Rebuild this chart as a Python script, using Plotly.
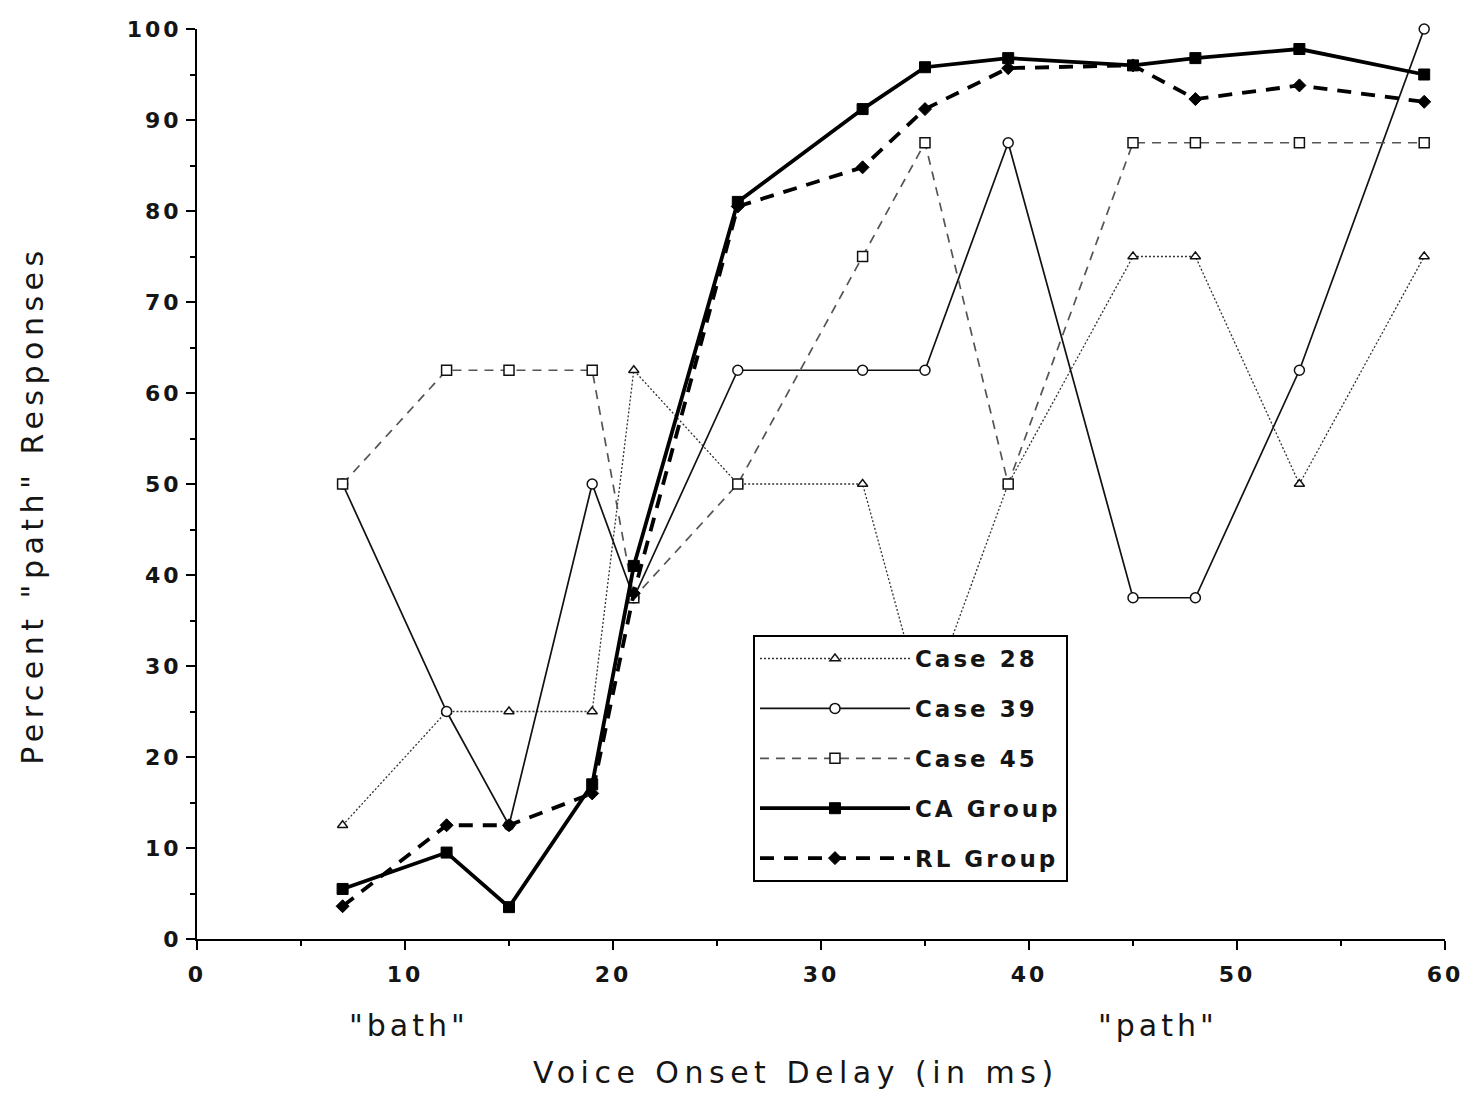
import plotly.graph_objects as go

# ---------------- data ----------------
vot_ms = [7, 12, 15, 19, 21, 26, 32, 35, 39, 45, 48, 53, 59]
case28 = [12.5, 25, 25, 25, 62.5, 50, 50, 25, 50, 75, 75, 50, 75]
case39 = [50, 25, 12.5, 50, 37.5, 62.5, 62.5, 62.5, 87.5, 37.5, 37.5, 62.5, 100]
case45 = [50, 62.5, 62.5, 62.5, 37.5, 50, 75, 87.5, 50, 87.5, 87.5, 87.5, 87.5]
ca_group = [5.5, 9.5, 3.5, 17, 41, 81, 91.2, 95.8, 96.8, 96, 96.8, 97.8, 95]
rl_group = [3.6, 12.5, 12.5, 16, 38, 80.5, 84.8, 91.2, 95.7, 96, 92.3, 93.8, 92]

series_names = ["Case 28", "Case 39", "Case 45", "CA Group", "RL Group"]
x_ticks = [0, 10, 20, 30, 40, 50, 60]
y_ticks = [0, 10, 20, 30, 40, 50, 60, 70, 80, 90, 100]
x_title = "Voice Onset Delay (in ms)"
y_title = 'Percent "path" Responses'
end_labels = ['"bath"', '"path"']
end_label_x = [10.2, 46.2]

FONT = "DejaVu Sans"
TXT = "#151515"


def spaced(s, px):
    return f'<span style="letter-spacing:{px}px">{s}</span>'


styles = [
    dict(line=dict(color="#333", width=1.3, dash="2px,2px"),
         marker=dict(symbol="triangle-up", size=9, color="white",
                     line=dict(color="#111", width=1.4))),
    dict(line=dict(color="#111", width=1.7, dash="solid"),
         marker=dict(symbol="circle", size=10, color="white",
                     line=dict(color="#111", width=1.5))),
    dict(line=dict(color="#555", width=1.7, dash="9px,7px"),
         marker=dict(symbol="square", size=10, color="white",
                     line=dict(color="#111", width=1.5))),
    dict(line=dict(color="black", width=3.8, dash="solid"),
         marker=dict(symbol="square", size=11, color="black",
                     line=dict(color="black", width=1))),
    dict(line=dict(color="black", width=3.8, dash="14px,10px"),
         marker=dict(symbol="diamond", size=10, color="black",
                     line=dict(color="black", width=1))),
]

fig = go.Figure()
for i, (name, ys) in enumerate(zip(series_names,
                                   [case28, case39, case45, ca_group, rl_group])):
    fig.add_trace(go.Scatter(
        x=vot_ms, y=ys, mode="lines+markers",
        name=spaced(name, 3), legendgroup=name,
        line=styles[i]["line"], marker=styles[i]["marker"],
        cliponaxis=False,
    ))

axis_common = dict(
    showgrid=False, zeroline=False, showline=True, linecolor="black",
    linewidth=2, ticks="outside", ticklen=9, tickwidth=2, tickcolor="black",
    tickfont=dict(family=FONT, size=22, color=TXT, weight="bold"),
    automargin=False,
)

fig.update_layout(
    width=1468, height=1093,
    margin=dict(l=197, r=23, t=29, b=154),
    paper_bgcolor="white", plot_bgcolor="white",
    font=dict(family=FONT, color=TXT),
    xaxis=dict(
        range=[0, 60], tickvals=x_ticks,
        ticktext=[spaced(str(v), 3) for v in x_ticks],
        minor=dict(dtick=5, ticks="outside", ticklen=5, tickwidth=2, tickcolor="black"),
        ticklabelstandoff=6,
        **axis_common,
    ),
    yaxis=dict(
        range=[0, 100], tickvals=y_ticks,
        ticktext=[spaced(str(v), 3) for v in y_ticks],
        minor=dict(dtick=5, ticks="outside", ticklen=5, tickwidth=2, tickcolor="black"),
        **axis_common,
    ),
    legend=dict(
        x=0.4455, y=0.334, xanchor="left", yanchor="top",
        bgcolor="white", bordercolor="black", borderwidth=2,
        font=dict(family=FONT, size=23, color=TXT, weight="bold"),
        itemwidth=150, tracegroupgap=17,
    ),
    showlegend=True,
)

# axis titles
fig.add_annotation(
    x=28.8, xref="x", y=-0.147, yref="paper", showarrow=False,
    text=spaced(x_title, 5.5), font=dict(family=FONT, size=30, color=TXT),
    xanchor="center", yanchor="middle",
)
fig.add_annotation(
    x=(33 - 197) / 1248, xref="paper", xanchor="center",
    y=0.476, yref="paper", yanchor="middle",
    showarrow=False, textangle=-90,
    text=spaced(y_title, 5.5), font=dict(family=FONT, size=30, color=TXT),
)

for lbl, xv in zip(end_labels, end_label_x):
    fig.add_annotation(
        x=xv, xref="x", y=-0.095, yref="paper", showarrow=False,
        text=spaced(lbl, 4), font=dict(family=FONT, size=30, color=TXT),
        xanchor="center", yanchor="middle",
    )

fig.write_html("out.html")
